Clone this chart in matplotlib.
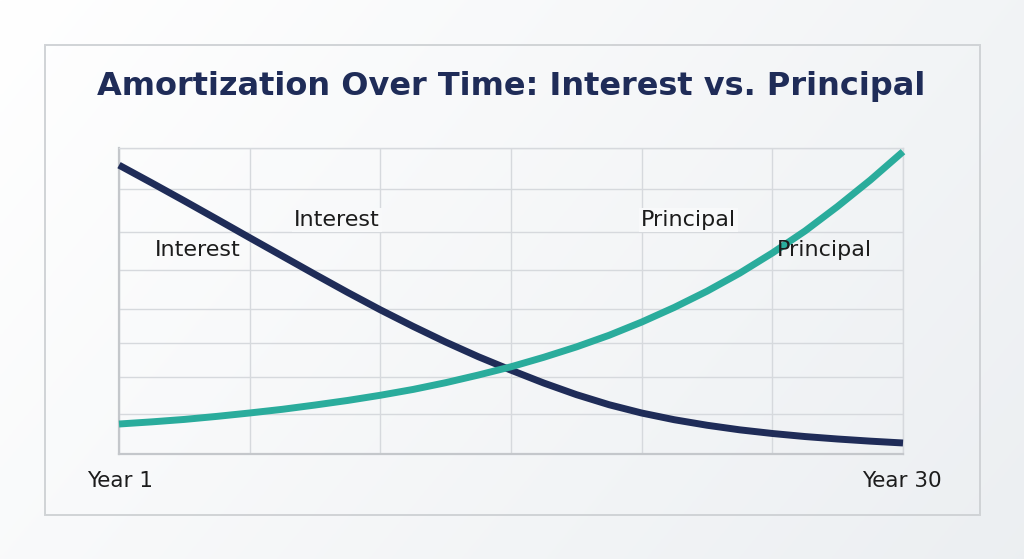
import numpy as np
import matplotlib.pyplot as plt
from matplotlib.patches import Rectangle

# values (share of payment, 0-100)
years = [1, 2.21, 3.42, 4.63, 5.83, 7.04, 8.25, 9.46, 10.67, 11.88, 13.08, 14.29, 15.5,
         16.71, 17.92, 19.13, 20.33, 21.54, 22.75, 23.96, 25.17, 26.38, 27.58, 28.79, 30]
interest = [94.4, 88.6, 82.7, 76.7, 70.7, 64.7, 58.7, 52.8, 47.1, 41.7, 36.6, 31.8, 27.4,
            23.2, 19.4, 16.1, 13.4, 11.2, 9.4, 7.9, 6.7, 5.7, 4.9, 4.2, 3.6]
principal = [9.8, 10.5, 11.3, 12.3, 13.4, 14.6, 16.0, 17.5, 19.2, 21.1, 23.3, 25.8, 28.5,
             31.6, 35.0, 38.8, 43.1, 47.9, 53.2, 59.1, 65.7, 72.9, 80.9, 89.5, 98.8]

x_grid = [1, 5.83, 10.67, 15.5, 20.33, 25.17, 30]
y_grid = [0, 13.1, 25.2, 36.3, 47.4, 60.1, 72.5, 86.6, 100]

title = 'Amortization Over Time: Interest vs. Principal'
x_labels = ['Year 1', 'Year 30']

navy = '#1f2c58'
teal = '#2aac9c'
grid_c = '#d6d9dd'
txt_c = '#1c1c1c'

plt.rcParams['font.family'] = ['DejaVu Sans']

fig = plt.figure(figsize=(10.24, 5.59), dpi=100)

# soft background gradient
bg = fig.add_axes([0, 0, 1, 1])
gx, gy = np.meshgrid(np.linspace(0, 1, 256), np.linspace(0, 1, 256))
g = 0.55 * gx + 0.25 * gy
c0 = np.array([1.0, 1.0, 1.0])
c1 = np.array([0.925, 0.937, 0.948])
img = c0 + (c1 - c0) * g[..., None] / g.max()
bg.imshow(img, extent=[0, 1, 0, 1], aspect='auto', origin='upper')
bg.set_xlim(0, 1)
bg.set_ylim(0, 1)
bg.axis('off')

# outer frame
fig.patches.append(Rectangle((45 / 1024, 1 - 515 / 559), 935 / 1024, 470 / 559,
                             transform=fig.transFigure, fill=False,
                             edgecolor='#d0d3d6', linewidth=1.4))

fig.text(511 / 1024, 1 - 87 / 559, title, ha='center', va='center',
         fontsize=23, fontweight='bold', color=navy)

ax = fig.add_axes([119 / 1024, 1 - 454 / 559, 784 / 1024, 306 / 559])
ax.set_facecolor('none')
ax.set_xlim(1, 30)
ax.set_ylim(0, 100)
ax.set_xticks(x_grid)
ax.set_yticks(y_grid)
ax.tick_params(length=0, labelbottom=False, labelleft=False)
ax.grid(True, color=grid_c, linewidth=1.0)
for s in ax.spines.values():
    s.set_color(grid_c)
    s.set_linewidth(1.0)
ax.spines['left'].set_color('#c4c7cb')
ax.spines['bottom'].set_color('#c4c7cb')
ax.spines['left'].set_linewidth(1.6)
ax.spines['bottom'].set_linewidth(1.6)

ax.plot(years, interest, color=navy, linewidth=5, solid_capstyle='butt',
        solid_joinstyle='round', zorder=4, clip_on=False)
ax.plot(years, principal, color=teal, linewidth=5, solid_capstyle='butt',
        solid_joinstyle='round', zorder=4, clip_on=False)

box = dict(facecolor='#f8f9fa', edgecolor='none', pad=1.5)
ax.text(3.92, 66.6, 'Interest', ha='center', va='center', fontsize=16, color=txt_c, zorder=3)
ax.text(9.06, 76.5, 'Interest', ha='center', va='center', fontsize=16, color=txt_c, zorder=3, bbox=box)
ax.text(22.05, 76.5, 'Principal', ha='center', va='center', fontsize=16, color=txt_c, zorder=3, bbox=box)
ax.text(27.1, 66.6, 'Principal', ha='center', va='center', fontsize=16, color=txt_c, zorder=5)

fig.text(120 / 1024, 1 - 481 / 559, x_labels[0], ha='center', va='center', fontsize=15.5, color=txt_c)
fig.text(902 / 1024, 1 - 481 / 559, x_labels[1], ha='center', va='center', fontsize=15.5, color=txt_c)

fig.savefig('out.png', dpi=100)
